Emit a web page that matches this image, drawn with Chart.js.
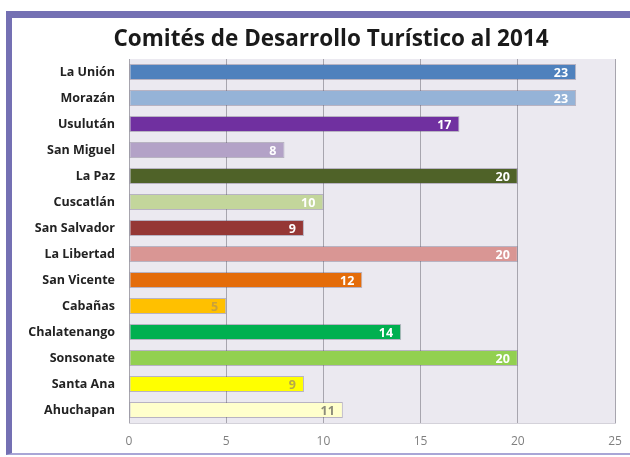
<!DOCTYPE html>
<html>
<head>
<meta charset="utf-8">
<script src="https://cdn.jsdelivr.net/npm/chart.js@4.4.1/dist/chart.umd.min.js"></script>
<style>
  html, body { margin: 0; padding: 0; background: #fff; overflow: hidden; }
  .frame {
    position: absolute; left: 6px; top: 11px;
    width: 638px; height: 435px;
    border-top: 7px solid #7470b3;
    border-left: 6px solid #7470b3;
    border-bottom: 2px solid #a9a6d6;
  }
  .frame canvas { display: block; }
</style>
</head>
<body>
<div class="frame"><canvas id="chart" width="638" height="435"></canvas></div>
<script>
// datos del gráfico
const departamentos = ["La Unión", "Morazán", "Usulután", "San Miguel", "La Paz", "Cuscatlán", "San Salvador",
  "La Libertad", "San Vicente", "Cabañas", "Chalatenango", "Sonsonate", "Santa Ana", "Ahuchapan"];
const comites = [23, 23, 17, 8, 20, 10, 9, 20, 12, 5, 14, 20, 9, 11];
const colores = ["#4f81bd", "#95b3d7", "#7030a0", "#b3a2c7", "#4f6228", "#c3d69b", "#953735",
  "#d99694", "#e46c0a", "#ffc000", "#00b050", "#92d050", "#ffff00", "#ffffcc"];
const coloresEtiqueta = ["#fff", "#fff", "#fff", "#fff", "#fff", "#fff", "#fff",
  "#fff", "#fff", "#c9a13a", "#fff", "#fff", "#b5a84a", "#8c8c7a"];
const ticksX = [0, 5, 10, 15, 20, 25];

// fondo lila del área de trazado
const fondoPlot = {
  id: "fondoPlot",
  beforeDraw(chart) {
    const a = chart.chartArea;
    const ctx = chart.ctx;
    ctx.save();
    ctx.fillStyle = "#ebe9f0";
    ctx.fillRect(a.left, a.top, a.right - a.left, a.bottom - a.top);
    ctx.restore();
  }
};

// números dentro de las barras
const etiquetas = {
  id: "etiquetas",
  afterDatasetsDraw(chart) {
    const ctx = chart.ctx;
    const meta = chart.getDatasetMeta(0);
    ctx.save();
    ctx.font = "bold 12.5px 'Open Sans'";
    ctx.textAlign = "right";
    ctx.textBaseline = "middle";
    meta.data.forEach(function (bar, i) {
      ctx.fillStyle = coloresEtiqueta[i];
      ctx.fillText(String(comites[i]), bar.x - 8, bar.y + 1);
    });
    ctx.restore();
  }
};

new Chart(document.getElementById("chart"), {
  type: "bar",
  data: {
    labels: departamentos,
    datasets: [{
      data: comites,
      backgroundColor: colores,
      borderColor: "rgba(90,80,110,0.35)",
      borderWidth: 1,
      borderSkipped: false,
      categoryPercentage: 1,
      barPercentage: 0.62
    }]
  },
  options: {
    indexAxis: "y",
    responsive: false,
    animation: false,
    layout: { padding: 0 },
    plugins: {
      legend: { display: false },
      tooltip: { enabled: false },
      title: {
        display: true,
        text: "Comités de Desarrollo Turístico al 2014",
        color: "#1a1a1a",
        font: { family: "'Open Sans'", size: 22.5, weight: "bold", lineHeight: 1.2 },
        padding: { top: 8, bottom: 6 }
      }
    },
    scales: {
      x: {
        min: 0,
        max: 25,
        afterBuildTicks: function (scale) {
          scale.ticks = ticksX.map(function (v) { return { value: v }; });
        },
        afterFit: function (scale) { scale.height = 30; },
        grid: { color: "#a7a5ae", lineWidth: 1, drawTicks: false },
        border: { display: true, color: "#d4d2da" },
        ticks: { color: "#7f7f7f", padding: 11, font: { family: "'Open Sans'", size: 12 } }
      },
      y: {
        afterFit: function (scale) { scale.width = 117; },
        grid: { display: false, drawTicks: false },
        border: { display: false },
        ticks: { color: "#222", padding: 14, font: { family: "'Open Sans'", size: 12.5, weight: "bold" } }
      },
      // eje vacío a la derecha: solo reserva espacio (el canvas sobresale de la ventana)
      yVacio: {
        type: "category",
        position: "right",
        afterFit: function (scale) { scale.width = 35; },
        grid: { display: false, drawTicks: false },
        border: { display: false },
        ticks: { display: false }
      }
    }
  },
  plugins: [fondoPlot, etiquetas]
});
</script>
</body>
</html>
